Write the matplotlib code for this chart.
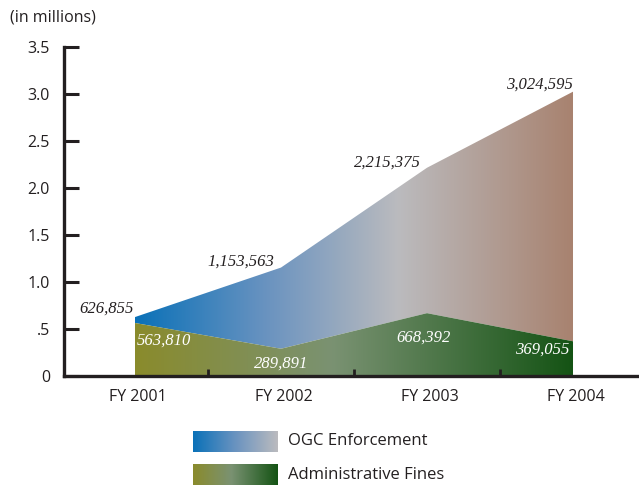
import numpy as np
import matplotlib.pyplot as plt
from matplotlib.colors import LinearSegmentedColormap

years = ["FY 2001", "FY 2002", "FY 2003", "FY 2004"]
ogc = [626855, 1153563, 2215375, 3024595]
fines = [563810, 289891, 668392, 369055]
yticks = [0, 0.5, 1.0, 1.5, 2.0, 2.5, 3.0, 3.5]
ytick_labels = ["0", ".5", "1.0", "1.5", "2.0", "2.5", "3.0", "3.5"]

sans = "Open Sans"
serif = "Liberation Serif"
ink = "#231f20"

ogc_cmap = LinearSegmentedColormap.from_list(
    "ogc", [(0.0, "#0a71b8"), (0.3, "#6a93c0"), (0.6, "#bbbbbe"), (1.0, "#a8826f")])
fines_cmap = LinearSegmentedColormap.from_list(
    "fines", [(0.0, "#8a8b2c"), (0.45, "#7a9272"), (1.0, "#145314")])
ogc_legend_cmap = LinearSegmentedColormap.from_list(
    "ogc_leg", ["#0a71b8", "#6a93c0", "#bbbbbe"])

x = np.arange(len(years))
ogc_m = np.array(ogc) / 1e6
fines_m = np.array(fines) / 1e6

fig = plt.figure(figsize=(6.39, 4.86), dpi=100)
ax = fig.add_axes([64 / 639, 110 / 486, 575 / 639, 329 / 486])

grad = np.linspace(0, 1, 256).reshape(1, -1)


def gradient_area(ax, x, lo, hi, cmap):
    poly = ax.fill_between(x, lo, hi, facecolor="none", edgecolor="none")
    im = ax.imshow(grad, cmap=cmap, aspect="auto", extent=[x[0], x[-1], 0, 3.5],
                   origin="lower", zorder=1)
    im.set_clip_path(poly.get_paths()[0], transform=ax.transData)
    return im


gradient_area(ax, x, fines_m, ogc_m, ogc_cmap)
gradient_area(ax, x, np.zeros_like(fines_m), fines_m, fines_cmap)

ax.set_xlim(-0.486, 3.452)
ax.set_ylim(0, 3.5)

for sp in ["top", "right"]:
    ax.spines[sp].set_visible(False)
for sp in ["left", "bottom"]:
    ax.spines[sp].set_linewidth(2.4)
    ax.spines[sp].set_color(ink)

ax.set_yticks(yticks)
ax.set_yticklabels(ytick_labels, fontsize=11.5, family=sans, color=ink)
ax.tick_params(axis="y", direction="in", length=11, width=2.2, color=ink, pad=10)

ax.set_xticks([0.5, 1.5, 2.5])
ax.set_xticklabels([])
ax.tick_params(axis="x", which="major", direction="in", length=5, width=2.0, color=ink)
ax.set_xticks(x + 0.02, years, minor=True)
ax.tick_params(axis="x", which="minor", length=0, pad=9, labelsize=11.5)
for lab in ax.get_xticklabels(minor=True):
    lab.set_family(sans)
    lab.set_color(ink)

# value labels (offsets in pixels, baseline anchored)
ogc_offsets = [(-1, 4), (-7, 2), (-6, 1), (0, 3)]
for xi, v, (dx, dy) in zip(x, ogc, ogc_offsets):
    ax.annotate(f"{v:,}", (xi, v / 1e6), xytext=(dx, dy), textcoords="offset pixels",
                ha="right", va="baseline", fontsize=12, family=serif, style="italic", color=ink)

fines_offsets = [(2, -22, "left"), (0, -19, "center"), (-3, -28, "center"), (-4, -12, "right")]
for xi, v, (dx, dy, ha) in zip(x, fines, fines_offsets):
    ax.annotate(f"{v:,}", (xi, v / 1e6), xytext=(dx, dy), textcoords="offset pixels",
                ha=ha, va="baseline", fontsize=12, family=serif, style="italic", color="white")

fig.text(10 / 639, 1 - 17 / 486, "(in millions)", fontsize=11.5, family=sans,
         color=ink, va="center")

# legend swatches
lax1 = fig.add_axes([193 / 639, 1 - 452 / 486, 84 / 639, 21 / 486])
lax1.imshow(grad, cmap=ogc_legend_cmap, aspect="auto")
lax1.axis("off")
lax2 = fig.add_axes([193 / 639, 1 - 485 / 486, 84 / 639, 21 / 486])
lax2.imshow(grad, cmap=fines_cmap, aspect="auto")
lax2.axis("off")
fig.text(288 / 639, 1 - 441 / 486, "OGC Enforcement", fontsize=12, family=sans,
         color=ink, va="center")
fig.text(288 / 639, 1 - 475 / 486, "Administrative Fines", fontsize=12, family=sans,
         color=ink, va="center")

fig.savefig("out.png", dpi=100)
